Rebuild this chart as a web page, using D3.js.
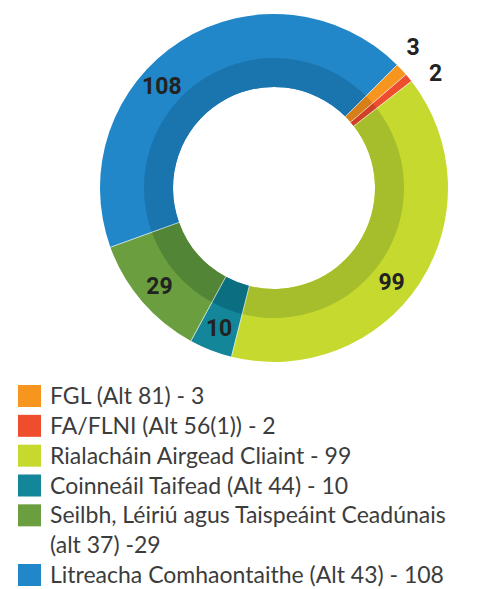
<!DOCTYPE html>
<html>
<head>
<meta charset="utf-8">
<script src="https://cdn.jsdelivr.net/npm/d3@7"></script>
<style>
  body { margin: 0; background: #fff; }
  svg { display: block; }
</style>
</head>
<body>
<svg width="486" height="589"></svg>
<script>
const categories = [
  'FGL (Alt 81) - 3',
  'FA/FLNI (Alt 56(1)) - 2',
  'Rialacháin Airgead Cliaint - 99',
  'Coinneáil Taifead (Alt 44) - 10',
  'Seilbh, Léiriú agus Taispeáint Ceadúnais\n(alt 37) -29',
  'Litreacha Comhaontaithe (Alt 43) - 108',
];
const values = [3, 2, 99, 10, 29, 108];
const colors = ['#f7961f', '#ee4e2e', '#c6d92f', '#14869a', '#6a9e3f', '#2187c9'];
const darkColors = ['#d67f18', '#cf4027', '#a6bd2c', '#0b6f81', '#528636', '#1a74ae'];

const cx = 274, cy = 188;
const outerR = 174, bandR = 130, innerR = 101;
const toRad = (deg) => deg * Math.PI / 180;

const svg = d3.select('svg');

const pie = d3.pie()
  .sort(null)
  .value((d) => d)
  .startAngle(toRad(45))
  .endAngle(toRad(45 + 360));

const arcs = pie(values);

const outerArc = d3.arc().innerRadius(innerR).outerRadius(outerR);
const innerArc = d3.arc().innerRadius(innerR).outerRadius(bandR);

const g = svg.append('g')
  .attr('transform', `translate(${cx}, ${cy})`);

g.selectAll('path.outer')
  .data(arcs)
  .join('path')
    .attr('class', 'outer')
    .attr('d', outerArc)
    .attr('fill', (d, i) => colors[i]);

g.selectAll('path.band')
  .data(arcs)
  .join('path')
    .attr('class', 'band')
    .attr('d', innerArc)
    .attr('fill', (d, i) => darkColors[i]);

// thin white separators between slices
g.selectAll('line.sep')
  .data(arcs)
  .join('line')
    .attr('class', 'sep')
    .attr('x1', (d) => innerR * Math.sin(d.startAngle))
    .attr('y1', (d) => -innerR * Math.cos(d.startAngle))
    .attr('x2', (d) => outerR * Math.sin(d.startAngle))
    .attr('y2', (d) => -outerR * Math.cos(d.startAngle))
    .attr('stroke', '#fff')
    .attr('stroke-opacity', 0.8)
    .attr('stroke-width', 0.8);

// value labels: big slices inside the ring, tiny ones outside
const labelAngle = (d, i) => {
  const mid = (d.startAngle + d.endAngle) / 2;
  const span = d.endAngle - d.startAngle;
  if (d.value < 5) return mid + toRad(i === 0 ? -2.5 : 4);
  if (i === arcs.length - 1) return d.startAngle + 0.4 * span;
  if (d.value > 50) return d.startAngle + 0.54 * span;
  return mid;
};
const labelR = (d) => d.value < 5 ? 198 : 151;

g.selectAll('text.val')
  .data(arcs)
  .join('text')
    .attr('class', 'val')
    .text((d) => d.value)
    .attr('x', (d, i) => labelR(d) * Math.sin(labelAngle(d, i)))
    .attr('y', (d, i) => -labelR(d) * Math.cos(labelAngle(d, i)))
    .attr('text-anchor', 'middle')
    .attr('dominant-baseline', 'central')
    .style('font-family', 'Roboto, sans-serif')
    .style('font-weight', 'bold')
    .style('font-size', '23px')
    .attr('fill', '#222');

// legend
const rowY = d3.scalePoint()
  .domain(d3.range(7))
  .range([396, 575]);
const rowOf = [0, 1, 2, 3, 4, 6];

const legend = svg.append('g');
const items = legend.selectAll('g')
  .data(categories)
  .join('g')
    .attr('transform', (d, i) => `translate(0, ${rowY(rowOf[i])})`);

items.append('rect')
  .attr('x', 18)
  .attr('y', -11)
  .attr('width', 23)
  .attr('height', 22)
  .attr('fill', (d, i) => colors[i]);

items.append('text')
  .attr('x', 50)
  .attr('y', 8)
  .style('font-family', 'Lato, sans-serif')
  .style('font-size', '23px')
  .attr('fill', '#3c3c3c')
  .selectAll('tspan')
  .data((d) => d.split('\n'))
  .join('tspan')
    .attr('x', 50)
    .attr('dy', (d, j) => j === 0 ? 0 : 29.8)
    .text((d) => d);
</script>
</body>
</html>
